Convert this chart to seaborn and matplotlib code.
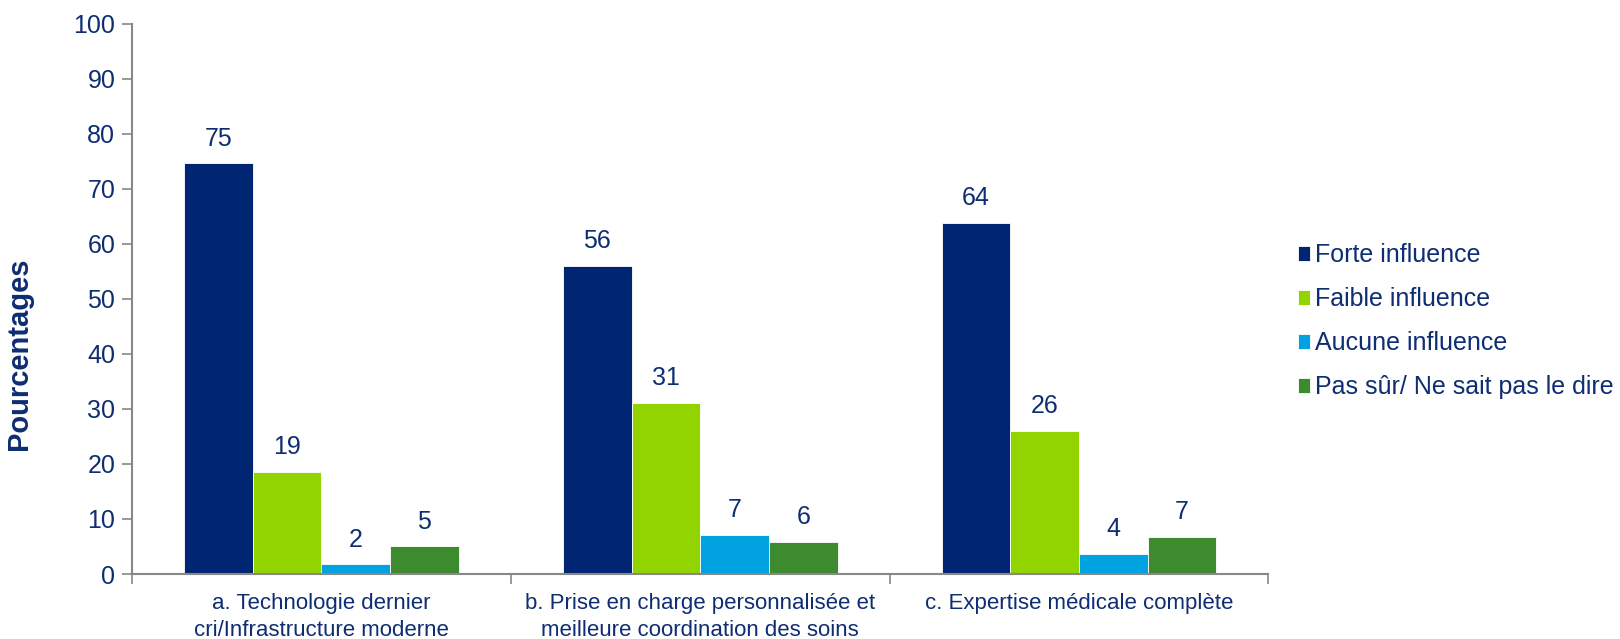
import matplotlib
matplotlib.use("Agg")
import matplotlib.pyplot as plt
import seaborn as sns
import pandas as pd
from matplotlib.ticker import FixedLocator

categories = ["a. Technologie dernier\ncri/Infrastructure moderne",
              "b. Prise en charge personnalisée et\nmeilleure coordination des soins",
              "c. Expertise médicale complète"]
series = ["Forte influence", "Faible influence", "Aucune influence", "Pas sûr/ Ne sait pas le dire"]
forte = [74.6, 56.0, 63.8]
faible = [18.6, 31.1, 26.0]
aucune = [1.8, 7.1, 3.7]
pas_sur = [5.0, 5.9, 6.8]
colors = ["#002673", "#92D400", "#00A3E0", "#3D8B2F"]
text_color = "#0E2D72"
y_ticks = [0, 10, 20, 30, 40, 50, 60, 70, 80, 90, 100]

rows = []
for s, vals in zip(series, [forte, faible, aucune, pas_sur]):
    for c, v in zip(categories, vals):
        rows.append({"cat": c, "series": s, "val": v})
df = pd.DataFrame(rows)

sns.set_theme(style="white")
plt.rcParams["font.family"] = ["Liberation Sans", "DejaVu Sans"]

fig = plt.figure(figsize=(16.2, 6.39), dpi=100)
ax = fig.add_axes([0.0815, 0.1017, 0.7015, 0.8613])

sns.barplot(data=df, x="cat", y="val", hue="series", order=categories,
            hue_order=series, palette=colors, width=0.725, ax=ax,
            edgecolor="white", linewidth=0.6, saturation=1, errorbar=None)

for cont in ax.containers:
    ax.bar_label(cont, fmt="%.0f", padding=9, fontsize=18, color=text_color)

ax.set_ylim(0, 100)
ax.set_xlim(-0.5, 2.5)
ax.set_yticks(y_ticks)
ax.tick_params(axis="y", labelsize=18, labelcolor=text_color, length=7, width=1.2,
               color="#888888", direction="out", left=True, pad=5)
ax.tick_params(axis="x", which="major", labelsize=16, labelcolor=text_color, length=0, pad=14)
ax.xaxis.set_minor_locator(FixedLocator([-0.5, 0.5, 1.5, 2.5]))
ax.tick_params(axis="x", which="minor", length=7, width=1.2, color="#888888",
               direction="out", bottom=True)
for lab in ax.get_xticklabels():
    lab.set_linespacing(1.35)

for side in ["top", "right"]:
    ax.spines[side].set_visible(False)
for side in ["left", "bottom"]:
    ax.spines[side].set_color("#888888")
    ax.spines[side].set_linewidth(1.5)

ax.set_xlabel("")
ax.set_ylabel("Pourcentages", fontsize=21, fontweight="bold", color=text_color)
ax.yaxis.set_label_coords(-0.087, 0.40)

handles, labels = ax.get_legend_handles_labels()
ax.legend_.remove()
leg = fig.legend(handles, labels, loc="center left", bbox_to_anchor=(0.801, 0.497),
                 frameon=False, fontsize=18, handlelength=0.5, handleheight=0.5,
                 handletextpad=0.2, labelspacing=0.8, borderaxespad=0, borderpad=0)
for t in leg.get_texts():
    t.set_color(text_color)

fig.savefig("out.png", dpi=100)
